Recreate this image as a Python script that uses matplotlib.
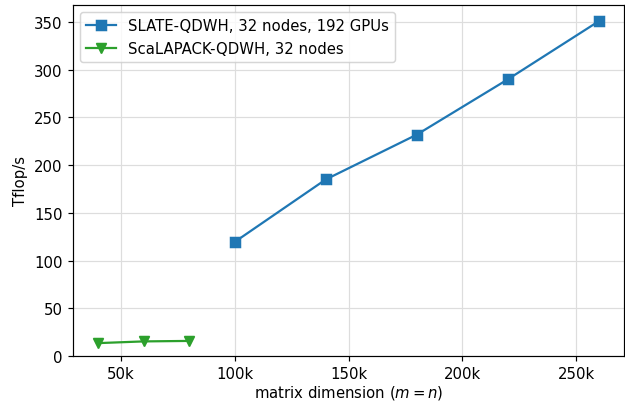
#!/usr/bin/env python
import matplotlib
matplotlib.use('Agg')
from matplotlib import pyplot as plt
from matplotlib.ticker import FuncFormatter

slate_n = [100000, 140000, 180000, 220000, 260000]
slate_tf = [119.5, 185, 232, 290, 351]
scal_n = [40000, 60000, 80000]
scal_tf = [13.5, 15.3, 15.8]

scale = 1.07
fig, ax = plt.subplots(figsize=(6.26 / scale, 4.02 / scale), dpi=100 * scale)
ax.plot(slate_n, slate_tf, '-s', color='tab:blue', ms=7,
        label='SLATE-QDWH, 32 nodes, 192 GPUs')
ax.plot(scal_n, scal_tf, '-v', color='tab:green', ms=7,
        label='ScaLAPACK-QDWH, 32 nodes')
ax.set_ylim(bottom=0)
ax.xaxis.set_major_formatter(FuncFormatter(lambda x, p: '%dk' % (x / 1000)))
ax.set_xlabel('matrix dimension ($m = n$)', labelpad=1)
ax.set_ylabel('Tflop/s')
ax.grid(True, color='#dddddd')
ax.set_axisbelow(True)
ax.legend(loc='upper left')
fig.subplots_adjust(left=73 / 626, right=624 / 626, top=1 - 6 / 402, bottom=1 - 357 / 402)
fig.savefig('out.png')
